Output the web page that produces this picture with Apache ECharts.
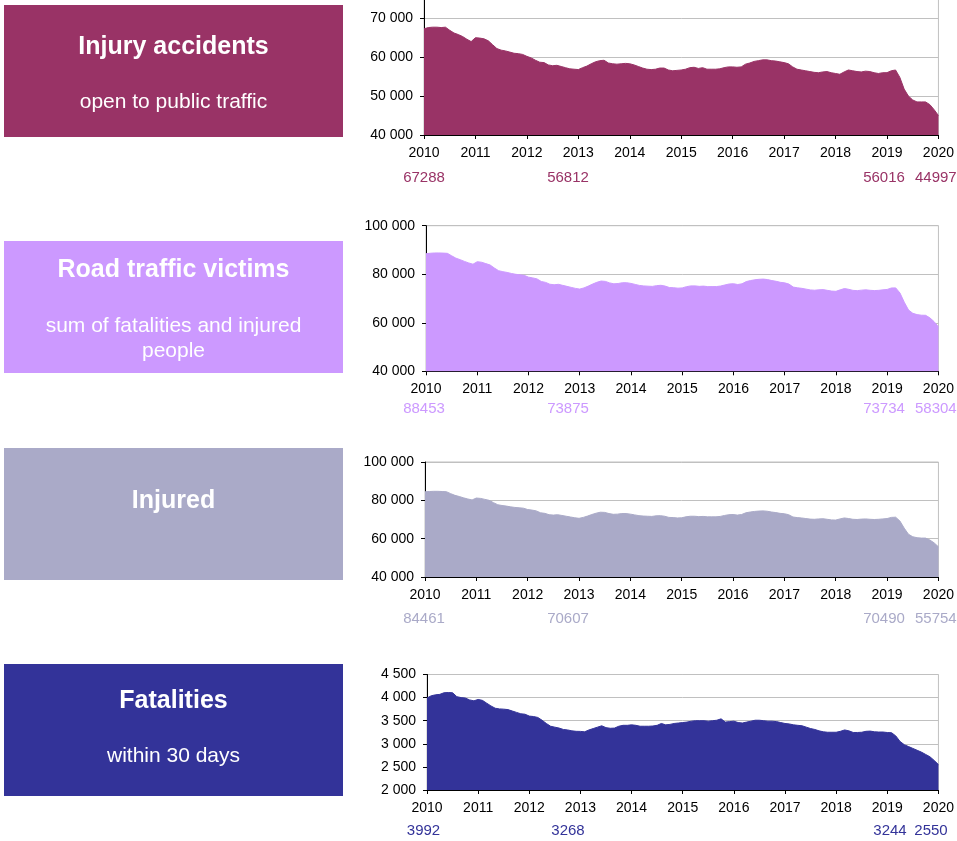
<!DOCTYPE html>
<html><head><meta charset="utf-8">
<script src="https://cdn.jsdelivr.net/npm/echarts@6/dist/echarts.min.js"></script>
<style>html,body{margin:0;padding:0;background:#fff;overflow:hidden;width:957px;height:841px}
#c{position:absolute;left:0;top:-30px;width:957px;height:871px}</style>
</head><body><div id="c"></div>
<script>
// monthly rolling values, Jan 2010 ... Dec 2019, then Jan 2020
const accidents = [
67288,67600,67700,67700,67600,67700,66900,66200,65800,65300,64600,64000,
65000,64900,64700,64200,63200,62200,61800,61600,61300,61000,60900,60700,
60200,59800,59200,58700,58600,58000,57800,57900,57600,57300,57000,56900,
56812,57300,57700,58300,58800,59100,59200,58500,58300,58200,58300,58400,
58300,58000,57600,57200,56900,56800,56900,57200,57200,56700,56500,56600,
56700,56900,57300,57400,57100,57300,56900,56900,56900,57000,57300,57500,
57500,57400,57500,58200,58500,58900,59100,59300,59300,59100,59000,58800,
58600,58300,57500,56900,56700,56500,56300,56100,56000,56200,56300,56000,
55800,55600,56200,56700,56500,56300,56200,56400,56300,56000,55800,56000,
56016,56500,56700,54800,51800,50000,49000,48500,48500,48500,47800,46500,
44997];
const victims = [
88453,88640,88760,88770,88705,88610,87605,86620,86000,85290,84650,84130,
85160,84940,84380,83820,82570,81455,81050,80740,80310,79980,79750,79540,
78800,78490,78070,77010,76640,75880,75660,75840,75410,75000,74580,74170,
73875,74360,75100,75930,76660,77190,77050,76436,76040,76180,76500,76500,
76210,75800,75380,75180,75080,74985,75300,75440,75110,74520,74440,74250,
74360,74870,75190,75200,75000,75100,74890,74900,74910,75140,75570,75980,
76090,75760,76050,76970,77390,77710,77910,78000,77790,77390,77080,76660,
76440,75930,74710,74400,74190,73860,73530,73410,73580,73660,73350,73050,
72950,73570,74100,73780,73345,73245,73450,73570,73375,73260,73355,73555,
73734,74340,74370,72250,68480,65240,63900,63360,63120,63070,62020,60440,
58304];
const injured = [
84461,84600,84700,84700,84600,84500,83500,82600,82000,81300,80700,80200,
81200,81000,80500,80000,78800,77700,77300,77000,76600,76300,76100,75900,
75200,74900,74500,73500,73200,72500,72300,72500,72100,71700,71300,70900,
70607,71100,71800,72600,73300,73800,73700,73100,72700,72800,73100,73100,
72800,72400,72000,71800,71700,71600,71900,72000,71700,71100,71000,70800,
70900,71400,71700,71700,71500,71600,71400,71400,71400,71600,72100,72500,
72600,72300,72600,73500,73900,74200,74400,74500,74300,73900,73600,73200,
73000,72500,71300,71000,70800,70500,70200,70100,70300,70400,70100,69800,
69700,70300,70800,70500,70100,70000,70200,70300,70100,70000,70100,70300,
70490,71100,71200,69200,65500,62300,61000,60500,60300,60300,59300,57800,
55754];
const fatalities = [
3992,4040,4060,4070,4105,4110,4105,4020,4000,3990,3950,3930,
3960,3940,3880,3820,3770,3755,3750,3740,3710,3680,3650,3640,
3600,3590,3570,3510,3440,3380,3360,3340,3310,3300,3280,3270,
3268,3260,3300,3330,3360,3390,3350,3336,3340,3380,3400,3400,
3410,3400,3380,3380,3380,3385,3400,3440,3410,3420,3440,3450,
3460,3470,3490,3500,3500,3500,3490,3500,3510,3540,3470,3480,
3490,3460,3450,3470,3490,3510,3510,3500,3490,3490,3480,3460,
3440,3430,3410,3400,3390,3360,3330,3310,3280,3260,3250,3250,
3250,3270,3300,3280,3245,3245,3250,3270,3275,3260,3255,3255,
3244,3240,3170,3050,2980,2940,2900,2860,2820,2770,2720,2640,
2550];
const startYear = 2010, endYear = 2020;
const titles = ['Injury accidents','Road traffic victims','Injured','Fatalities'];
const subtitles = [['open to public traffic'],['sum of fatalities and injured','people'],[],['within 30 days']];
const accLabels = ['67288','56812','56016','44997'];
const vicLabels = ['88453','73875','73734','58304'];
const injLabels = ['84461','70607','70490','55754'];
const fatLabels = ['3992','3268','3244','2550'];

const FONT = "'Liberation Sans', Arial, sans-serif";
const OFF = 30; // container offset
const panels = [
  {vals:accidents, labels:accLabels, color:'#993366', min:40000, max:80000, step:10000,
   grid:{left:424, top:-20.7, w:519, bottom:135}, box:[5,137], ty:47.5, sy:[102.5], ly:177.5},
  {vals:victims, labels:vicLabels, color:'#CC99FF', min:40000, max:100000, step:20000,
   grid:{left:426, top:225.7, w:517, bottom:371.3}, box:[241,373], ty:270, sy:[326.5,351], ly:408.5},
  {vals:injured, labels:injLabels, color:'#AAAAC8', min:40000, max:100000, step:20000,
   grid:{left:425, top:462, w:519, bottom:577}, box:[448,580], ty:501.5, sy:[], ly:619},
  {vals:fatalities, labels:fatLabels, color:'#333399', min:2000, max:4500, step:500,
   grid:{left:427, top:674.5, w:516, bottom:790}, box:[664,796], ty:701.5, sy:[756.5], ly:830.5}
];
const labelPos = [[424,'center'],[568,'center'],[884,'center'],[915,'left']];
const labelPosFat = [[423.5,'center'],[568,'center'],[890,'center'],[931,'center']];

const xs = accidents.map((_, i) => startYear + i / 12);
const fmt = v => String(v).replace(/\B(?=(\d{3})+(?!\d))/g, ' ');

const grids = [], xAxes = [], yAxes = [], series = [], graphics = [];
panels.forEach((p, i) => {
  grids.push({left:p.grid.left, top:p.grid.top + OFF, width:p.grid.w, height:p.grid.bottom - p.grid.top,
    show:true, borderColor:'#c0c0c0', borderWidth:1, backgroundColor:'transparent'});
  xAxes.push({gridIndex:i, type:'value', min:startYear, max:endYear, interval:1,
    axisLine:{show:true, onZero:false, lineStyle:{color:'#000', width:1}},
    axisTick:{show:true, length:4, lineStyle:{color:'#000'}},
    splitLine:{show:false},
    axisLabel:{fontSize:14, color:'#000', margin:11, fontFamily:FONT, formatter:v => String(v),
      showMaxLabel:true, showMinLabel:true}});
  yAxes.push({gridIndex:i, type:'value', min:p.min, max:p.max, interval:p.step,
    axisLine:{show:true, lineStyle:{color:'#000', width:1}},
    axisTick:{show:true, length:4, lineStyle:{color:'#000'}},
    splitLine:{show:true, lineStyle:{color:'#c0c0c0', width:1}},
    axisLabel:{fontSize:14, color:'#000', margin:11, fontFamily:FONT, formatter:fmt}});
  series.push({type:'line', xAxisIndex:i, yAxisIndex:i, symbol:'none', showSymbol:false,
    lineStyle:{color:p.color, width:1}, itemStyle:{color:p.color},
    areaStyle:{color:p.color, opacity:1, origin:'start'},
    data: xs.map((x, j) => [x, p.vals[j]])});
  // left box
  graphics.push({type:'rect', shape:{x:4, y:p.box[0] + OFF, width:339, height:p.box[1] - p.box[0]},
    style:{fill:p.color}, z:1});
  graphics.push({type:'text', x:173.5, y:p.ty + OFF, z:2,
    style:{text:titles[i], fill:'#fff', font:'bold 25px ' + FONT, textAlign:'center', textVerticalAlign:'middle'}});
  subtitles[i].forEach((s, k) => {
    graphics.push({type:'text', x:173.5, y:p.sy[k] + OFF, z:2,
      style:{text:s, fill:'#fff', font:'21px ' + FONT, textAlign:'center', textVerticalAlign:'middle'}});
  });
  const lp = i === 3 ? labelPosFat : labelPos;
  p.labels.forEach((t, k) => {
    graphics.push({type:'text', x:lp[k][0], y:p.ly + OFF, z:2,
      style:{text:t, fill:p.color, font:'15px ' + FONT, textAlign:lp[k][1], textVerticalAlign:'middle'}});
  });
});

const chart = echarts.init(document.getElementById('c'), null, {renderer:'canvas'});
chart.setOption({animation:false, backgroundColor:'#fff', textStyle:{fontFamily:FONT},
  grid:grids, xAxis:xAxes, yAxis:yAxes, series:series, graphic:graphics});
</script></body></html>
